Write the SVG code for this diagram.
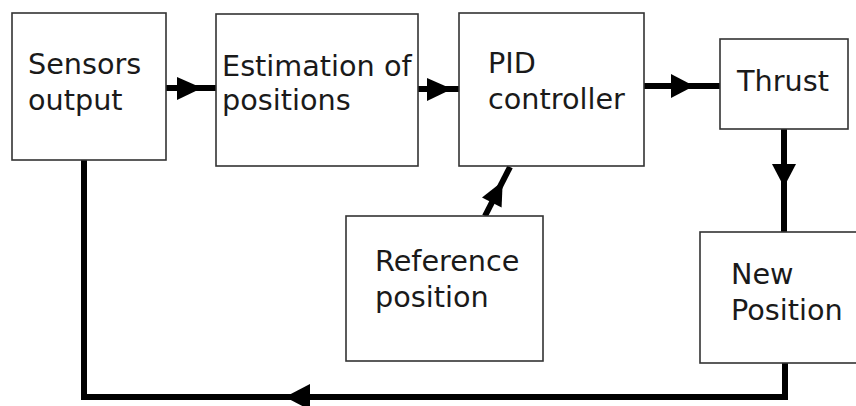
<svg xmlns="http://www.w3.org/2000/svg" width="856" height="406" viewBox="0 0 856 406">
<style>
.box{fill:#fff;stroke:#333;stroke-width:1.6}
.lbl{font-family:"DejaVu Sans",Verdana,sans-serif;font-size:28.7px;fill:#1a1a1a}
.wire{fill:none;stroke:#000;stroke-width:6;stroke-linejoin:miter}
.head{fill:#000}
</style>
<rect width="856" height="406" fill="#fff"/>
<g id="connectors">
<line class="wire" x1="166" y1="88" x2="216" y2="88"/>
<polygon class="head" points="177,77 202,88 177,100"/>
<line class="wire" x1="418" y1="89" x2="459" y2="89"/>
<polygon class="head" points="427,78 452,89 427,101"/>
<line class="wire" x1="644" y1="86" x2="720" y2="86"/>
<polygon class="head" points="671,74 694,86 671,98"/>
<line class="wire" x1="784" y1="129" x2="784" y2="232"/>
<polygon class="head" points="772,164 784,187 796,164"/>
<line class="wire" x1="485" y1="216" x2="510" y2="167"/>
<polygon class="head" points="482,197.6 502.7,181.3 501.6,207.6"/>
<polyline class="wire" points="785,363 785,397 84,397 84,160"/>
<polygon class="head" points="285,397 310,384 310,410"/>
</g>
<g id="sensors">
<rect class="box" x="12" y="13" width="154" height="147"/>
<text class="lbl" x="28" y="74">Sensors</text>
<text class="lbl" x="28" y="110">output</text>
</g>
<g id="estimation">
<rect class="box" x="216" y="14" width="202" height="152"/>
<text class="lbl" x="222" y="76">Estimation of</text>
<text class="lbl" x="222" y="110">positions</text>
</g>
<g id="pid">
<rect class="box" x="459" y="13" width="185" height="153"/>
<text class="lbl" x="488" y="73">PID</text>
<text class="lbl" x="488" y="109">controller</text>
</g>
<g id="thrust">
<rect class="box" x="720" y="39" width="128" height="90"/>
<text class="lbl" x="737" y="91">Thrust</text>
</g>
<g id="reference">
<rect class="box" x="346" y="216" width="197" height="145"/>
<text class="lbl" x="375" y="271">Reference</text>
<text class="lbl" x="375" y="307">position</text>
</g>
<g id="newposition">
<rect class="box" x="700" y="232" width="170" height="131"/>
<text class="lbl" x="731" y="284">New</text>
<text class="lbl" x="731" y="320">Position</text>
</g>
</svg>
